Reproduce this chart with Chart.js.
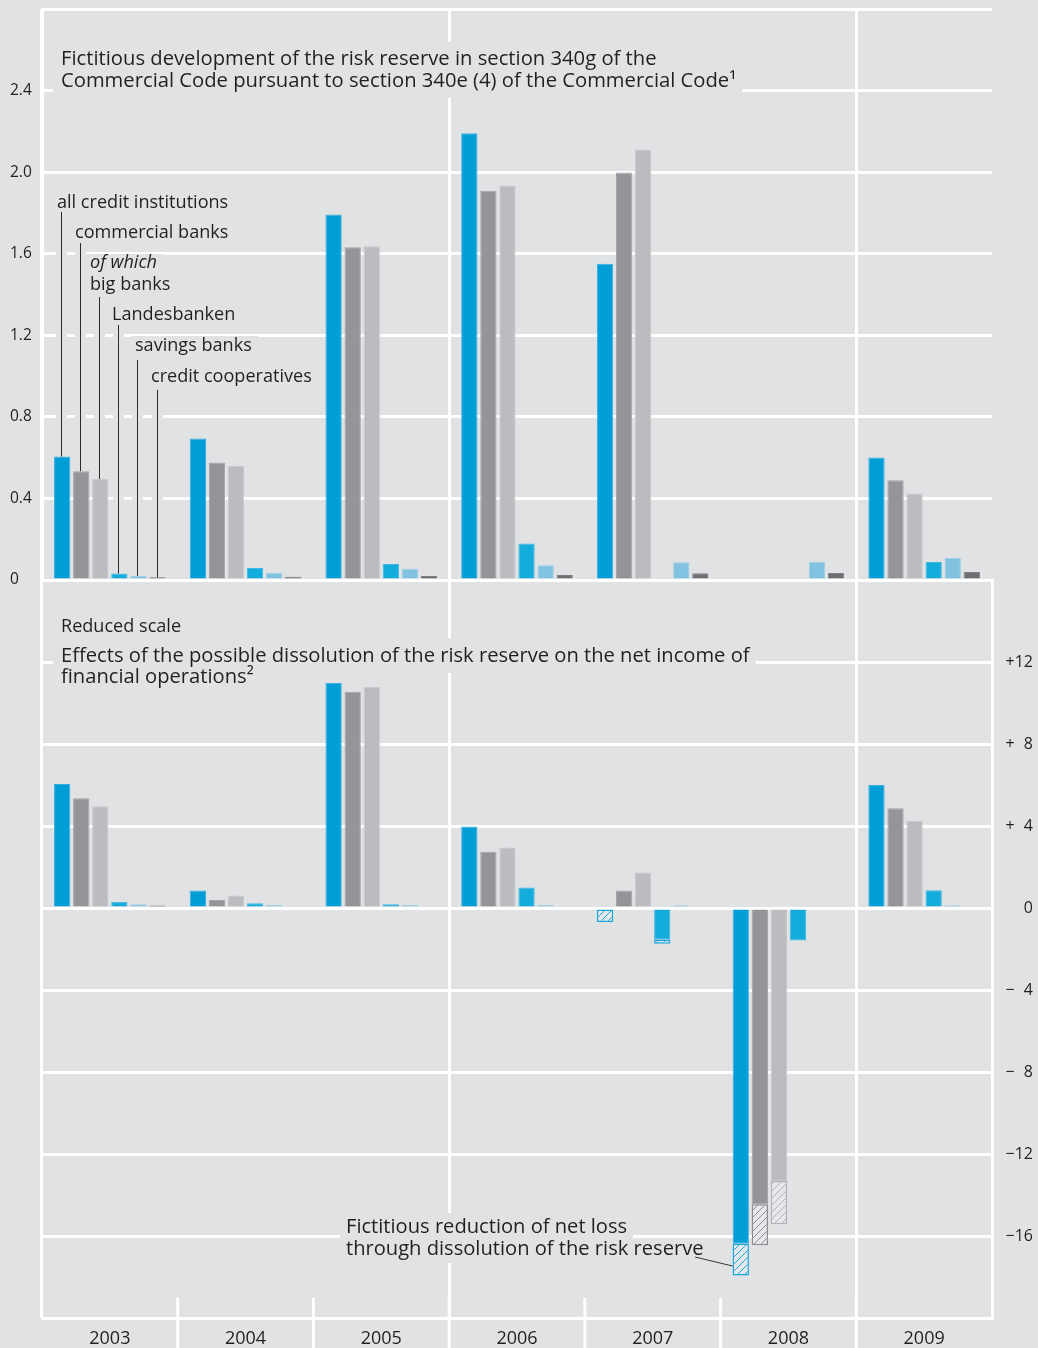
<!DOCTYPE html>
<html>
<head>
<meta charset="utf-8">
<script src="https://cdn.jsdelivr.net/npm/chart.js@4.4.1/dist/chart.umd.min.js"></script>
<style>
  html, body { margin: 0; padding: 0; background: #e1e2e4; }
  body { width: 1038px; height: 1348px; position: relative; overflow: hidden; }
  canvas { position: absolute; left: 0; }
  #topChart { top: 0; }
  #bottomChart { top: 570px; }
</style>
</head>
<body>
<canvas id="topChart" width="1038" height="600"></canvas>
<canvas id="bottomChart" width="1038" height="778"></canvas>
<script>
const years = ['2003', '2004', '2005', '2006', '2007', '2008', '2009'];
const seriesNames = ['all credit institutions', 'commercial banks', 'big banks',
                     'Landesbanken', 'savings banks', 'credit cooperatives'];

// upper panel: fictitious risk reserve (section 340g)
const reserveAll        = [0.606, 0.694, 1.793, 2.192, 1.552, null, 0.601];
const reserveCommercial = [0.534, 0.577, 1.633, 1.910, 1.999, null, 0.489];
const reserveBig        = [0.495, 0.559, 1.638, 1.936, 2.112, null, 0.425];
const reserveLandes     = [0.032, 0.059, 0.078, 0.179, null, null, 0.088];
const reserveSavings    = [0.020, 0.036, 0.055, 0.072, 0.087, 0.089, 0.108];
const reserveCoop       = [0.013, 0.016, 0.020, 0.024, 0.033, 0.034, 0.039];

// lower panel: net income of financial operations (reduced scale)
const netAll        = [6.05, 0.85, 10.97, 3.98, null, -16.38, 6.00];
const netCommercial = [5.35, 0.39, 10.55, 2.74, 0.85, -14.45, 4.86];
const netBig        = [4.96, 0.61, 10.78, 2.95, 1.73, -13.32, 4.24];
const netLandes     = [0.31, 0.23, 0.18, 1.00, -1.55, -1.58, 0.87];
const netSavings    = [0.18, 0.15, 0.15, 0.15, 0.13, null, 0.13];
const netCoop       = [0.12, null, null, null, null, null, null];

// fictitious reduction of net loss through dissolution of the reserve (hatched)
const reliefAll        = [null, null, null, null, -0.68, -1.55, null];
const reliefCommercial = [null, null, null, null, null, -2.00, null];
const reliefBig        = [null, null, null, null, null, -2.11, null];
const reliefLandes     = [null, null, null, null, -0.19, null, null];

const topTicks = [0, 0.4, 0.8, 1.2, 1.6, 2.0, 2.4];
const bottomTicks = [-16, -12, -8, -4, 0, 4, 8, 12];

const BG = '#e1e2e4';
const INK = '#231f20';
const FAM = "'Open Sans', 'Noto Sans', sans-serif";
const colors = ['#009ed6', '#949599', '#bbbcc0', '#14acdc', '#81c2e1', '#6d6e72'];
const edges  = ['#36afe0', '#a3a4a7', '#c7c8cb', '#3db9e2', '#9bcfe7', '#7e7f83'];

Chart.defaults.font.family = FAM;
Chart.defaults.color = INK;

function hatch(line) {
  const c = document.createElement('canvas');
  c.width = 7; c.height = 7;
  const g = c.getContext('2d');
  g.fillStyle = '#e6e8ea';
  g.fillRect(0, 0, 7, 7);
  g.strokeStyle = line;
  g.lineWidth = 1;
  g.beginPath();
  g.moveTo(0, 7); g.lineTo(7, 0);
  g.moveTo(-1, 1); g.lineTo(1, -1);
  g.moveTo(6, 8); g.lineTo(8, 6);
  g.stroke();
  return g.createPattern(c, 'repeat');
}

// pick a font size so that a text line gets the width it has in the original
function fitSize(ctx, text, width, style) {
  ctx.font = style + ' 20px ' + FAM;
  return 20 * width / ctx.measureText(text).width;
}

function boxedText(ctx, text, x, y, size, style, box) {
  ctx.font = style + ' ' + size + 'px ' + FAM;
  const w = ctx.measureText(text).width;
  if (box) {
    ctx.fillStyle = BG;
    ctx.fillRect(box[0], box[1], (box[2] ? box[2] : x + w + 6) - box[0], box[3]);
  }
  ctx.fillStyle = INK;
  ctx.fillText(text, x, y);
}

const frameLines = [0, 3, 6, 7];
const xGrid = {
  offset: true,
  color: c => frameLines.includes(c.index) ? '#ffffff' : 'rgba(0,0,0,0)',
  lineWidth: 3,
  drawTicks: false
};
const barSizing = { bar: { categoryPercentage: 0.843, barPercentage: 0.855 } };
const W = '500';

const topNotes = {
  id: 'topNotes',
  afterDatasetsDraw(chart) {
    const ctx = chart.ctx;
    ctx.save();
    ctx.textBaseline = 'alphabetic';

    const t1 = 'Fictitious development of the risk reserve in section 340g of the';
    const t2 = 'Commercial Code pursuant to section 340e (4) of the Commercial Code\u00b9';
    const ts = fitSize(ctx, t1, 596, W);
    boxedText(ctx, t1, 61, 65, ts, W, [53, 42, 0, 28]);
    boxedText(ctx, t2, 61, 87, ts, W, [53, 70, 0, 28]);

    // leader lines from the labels to the 2003 bars
    const leaderTops = [212, 243, 297, 325, 360, 390];
    const pts = leaderTops.map((top, i) => {
      const el = chart.getDatasetMeta(i).data[0];
      return { x: Math.round(el.x - 1) + 0.5, top: top, y: el.y };
    });
    ctx.fillStyle = BG;
    pts.forEach(p => ctx.fillRect(p.x - 5.5, p.top, 11, p.y - p.top - 1));
    ctx.strokeStyle = '#2b2a2a';
    ctx.lineWidth = 1;
    pts.forEach(p => {
      ctx.beginPath(); ctx.moveTo(p.x, p.top); ctx.lineTo(p.x, p.y); ctx.stroke();
    });

    const ls = fitSize(ctx, 'credit cooperatives', 161, W);
    boxedText(ctx, 'all credit institutions', 57, 208, ls, W, null);
    boxedText(ctx, 'commercial banks', 75, 238, ls, W, null);
    boxedText(ctx, 'of which', 90, 268, ls, 'italic ' + W, [86, 254, 0, 20]);
    boxedText(ctx, 'big banks', 90, 290, ls, W, null);
    boxedText(ctx, 'Landesbanken', 112, 320, ls, W, null);
    boxedText(ctx, 'savings banks', 135, 351, ls, W, [131, 336, 0, 20]);
    boxedText(ctx, 'credit cooperatives', 151, 382, ls, W, null);
    ctx.restore();
  }
};

const bottomNotes = {
  id: 'bottomNotes',
  afterDatasetsDraw(chart) {
    const ctx = chart.ctx;
    ctx.save();
    ctx.textBaseline = 'alphabetic';
    const ls = fitSize(ctx, 'credit cooperatives', 161, W);
    boxedText(ctx, 'Reduced scale', 61, 62, ls, W, null);

    const b1 = 'Effects of the possible dissolution of the risk reserve on the net income of';
    const bs = fitSize(ctx, b1, 689, W);
    boxedText(ctx, b1, 61, 92, bs, W, [53, 68, 0, 35]);
    boxedText(ctx, 'financial operations\u00b2', 61, 113, bs, W, null);

    const n1 = 'Fictitious reduction of net loss';
    const n2 = 'through dissolution of the risk reserve';
    const ns = fitSize(ctx, n2, 358, W);
    boxedText(ctx, n1, 346, 663, ns, W, [340, 643, 0, 27]);
    boxedText(ctx, n2, 346, 685, ns, W, [340, 670, 0, 23]);

    // pointer to the hatched part of the 2008 bar
    const el = chart.getDatasetMeta(6).data[5];
    const tx = el.x - el.width / 2;
    const ty = el.base + (el.y - el.base) * 0.7;
    ctx.strokeStyle = '#3a3a3a';
    ctx.lineWidth = 1;
    ctx.beginPath(); ctx.moveTo(695, 687); ctx.lineTo(tx, ty); ctx.stroke();
    ctx.restore();
  },
  afterDraw(chart) {
    // year dividers below the plot
    const ctx = chart.ctx;
    const xs = chart.scales.x;
    ctx.save();
    ctx.strokeStyle = '#ffffff';
    ctx.lineWidth = 3;
    for (let i = 1; i < years.length; i++) {
      const x = (xs.getPixelForTick(i - 1) + xs.getPixelForTick(i)) / 2;
      ctx.beginPath();
      ctx.moveTo(x, chart.chartArea.bottom - 20);
      ctx.lineTo(x, chart.height);
      ctx.stroke();
    }
    ctx.restore();
  }
};

const reserveSeries = [reserveAll, reserveCommercial, reserveBig, reserveLandes, reserveSavings, reserveCoop];
const netSeries = [netAll, netCommercial, netBig, netLandes, netSavings, netCoop];
const reliefSeries = [reliefAll, reliefCommercial, reliefBig, reliefLandes, null, null];
const reliefLines = ['#1aa7dc', '#8d8e91', '#b2b3b7', '#1aa7dc', '#81c2e1', '#6d6e72'];

new Chart(document.getElementById('topChart'), {
  type: 'bar',
  data: {
    labels: years,
    datasets: reserveSeries.map((d, i) => ({
      label: seriesNames[i],
      data: d,
      backgroundColor: colors[i],
      borderColor: edges[i],
      borderWidth: 1,
      borderSkipped: 'start'
    }))
  },
  options: {
    responsive: false,
    animation: false,
    devicePixelRatio: 1,
    layout: { padding: { left: 10, right: 46, top: 7, bottom: 20 } },
    datasets: barSizing,
    plugins: { legend: { display: false }, tooltip: { enabled: false } },
    scales: {
      x: {
        grid: xGrid,
        border: { display: false },
        ticks: { display: false },
        afterFit: s => { s.height = 0; }
      },
      y: {
        min: 0,
        max: 2.8,
        afterBuildTicks: s => { s.ticks = topTicks.concat([2.8]).map(v => ({ value: v })); },
        ticks: {
          crossAlign: 'far',
          padding: 0,
          color: INK,
          font: { size: 15.5, weight: W },
          callback: v => v === 0 ? '0' : (v > 2.5 ? '' : v.toFixed(1))
        },
        grid: { color: '#ffffff', lineWidth: 3, drawTicks: false },
        border: { color: '#ffffff', width: 3 },
        afterFit: s => { s.width = 32; }
      }
    }
  },
  plugins: [topNotes]
});

const bottomSets = netSeries.map((d, i) => ({
  label: seriesNames[i],
  data: d,
  stack: 's' + i,
  backgroundColor: colors[i],
  borderColor: edges[i],
  borderWidth: 1,
  borderSkipped: 'start'
}));
reliefSeries.forEach((d, i) => {
  bottomSets.push({
    label: seriesNames[i] + ' (dissolution)',
    data: d || years.map(() => null),
    stack: 's' + i,
    backgroundColor: hatch(reliefLines[i]),
    borderColor: reliefLines[i],
    borderWidth: 1.5,
    borderSkipped: false
  });
});

function signed(v) {
  if (v === 0) return '0';
  const a = Math.abs(v);
  return (v > 0 ? '+' : '\u2212') + (a < 10 ? '\u2007' : '') + a;
}

new Chart(document.getElementById('bottomChart'), {
  type: 'bar',
  data: { labels: years, datasets: bottomSets },
  options: {
    responsive: false,
    animation: false,
    devicePixelRatio: 1,
    layout: { padding: { left: 42, right: 5, top: 10, bottom: 0 } },
    datasets: barSizing,
    plugins: { legend: { display: false }, tooltip: { enabled: false } },
    scales: {
      x: {
        stacked: true,
        grid: xGrid,
        border: { display: false },
        ticks: { color: INK, font: { size: 18, weight: W }, padding: 10 },
        afterFit: s => { s.height = 30; }
      },
      y: {
        position: 'right',
        stacked: true,
        min: -20,
        max: 16,
        afterBuildTicks: s => { s.ticks = [-20].concat(bottomTicks, [16]).map(v => ({ value: v })); },
        ticks: {
          crossAlign: 'far',
          padding: 0,
          color: INK,
          font: { size: 16, weight: W },
          callback: v => (v === 16 || v === -20) ? '' : signed(v)
        },
        grid: { color: '#ffffff', lineWidth: 3, drawTicks: false },
        border: { color: '#ffffff', width: 3 },
        afterFit: s => { s.width = 41; }
      }
    }
  },
  plugins: [bottomNotes]
});
</script>
</body>
</html>
